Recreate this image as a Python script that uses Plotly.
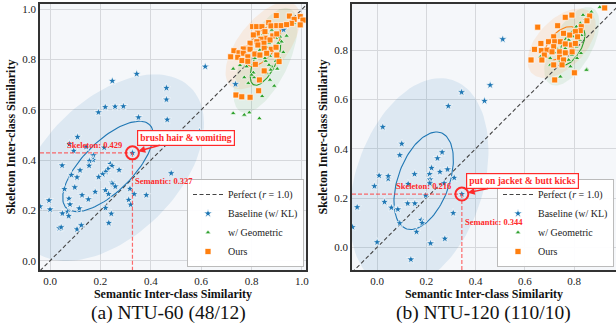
import numpy as np
import plotly.graph_objects as go

# ---------------- data ----------------
# (a) NTU-60 (48/12)
A_BASE_X = [0.616,0.344,0.247,0.462,0.462,0.219,0.258,0.291,0.192,0.351,0.465,0.109,0.593,0.736,0.927,0.077,0.094,0.143,0.215,0.172,0.327,0.048,0.171,0.156,0.155,0.119,0.085,0.107,0.239,0.246,0.230,0.221,0.209,0.193,0.274,0.246,-0.040,-0.004,0.000,0.057,0.098,0.075,0.079,0.049,0.070,0.074,0.116,0.127,0.152,0.179,0.220,0.232,0.249,0.259,0.220,0.243,0.233,0.317,0.312,0.320,0.334,0.382,0.037,0.044,0.107,0.124,0.481]
A_BASE_Y = [0.772,0.743,0.715,0.687,0.641,0.611,0.613,0.614,0.590,0.570,0.561,0.492,0.513,0.702,0.919,0.464,0.437,0.453,0.450,0.419,0.429,0.379,0.401,0.397,0.378,0.360,0.341,0.332,0.385,0.377,0.365,0.354,0.344,0.333,0.361,0.310,0.216,0.240,0.204,0.285,0.292,0.247,0.224,0.188,0.195,0.178,0.208,0.261,0.244,0.274,0.280,0.265,0.305,0.295,0.210,0.187,0.150,0.286,0.242,0.223,0.265,0.261,0.129,0.133,0.125,0.141,0.348]
A_GEO_X = [0.727,0.771,0.791,0.831,0.842,0.890,0.727,0.771,0.810,0.959,0.992,0.968,0.926,0.880,0.902,0.856,0.807,0.780,0.754,0.828,0.860,0.902,0.913,0.870,0.919,0.807,0.853,0.873,0.896,0.910,0.860,0.873,0.787,0.939,0.869,0.876,0.800,0.866,0.845,0.880,0.897,0.906,0.827,0.860,0.833,0.813]
A_GEO_Y = [0.586,0.580,0.589,0.566,0.654,0.695,0.763,0.729,0.729,0.938,0.941,0.944,0.829,0.772,0.763,0.794,0.748,0.772,0.777,0.825,0.905,0.905,0.891,0.865,0.871,0.782,0.805,0.814,0.794,0.807,0.745,0.719,0.706,0.894,0.778,0.759,0.739,0.937,0.900,0.918,0.885,0.865,0.894,0.849,0.838,0.805]
A_OURS_X = [0.898,0.950,0.993,1.004,0.969,0.958,0.993,0.804,0.820,0.841,0.868,0.877,0.900,0.918,0.939,0.853,0.823,0.807,0.884,0.900,0.854,0.837,0.873,0.821,0.794,0.849,0.825,0.778,0.767,0.794,0.850,0.878,0.897,0.730,0.750,0.767,0.813,0.833,0.860,0.717,0.745,0.785,0.900,0.762,0.785,0.909,0.815,0.850,0.831,0.828,0.738,0.761,0.794]
A_OURS_Y = [0.975,0.973,0.971,0.957,0.960,0.944,0.938,0.931,0.931,0.931,0.947,0.934,0.935,0.935,0.939,0.911,0.905,0.898,0.894,0.902,0.885,0.881,0.878,0.871,0.865,0.865,0.858,0.845,0.842,0.841,0.845,0.841,0.849,0.835,0.827,0.825,0.822,0.818,0.825,0.811,0.809,0.811,0.818,0.796,0.793,0.792,0.781,0.755,0.719,0.676,0.659,0.652,0.650]
A_HIGHLIGHT = (0.327, 0.429)
A_PAIR = "brush hair & vomiting"
# baseline confidence ellipses: (cx, cy, semi-major, semi-minor, angle deg)
A_BASE_ELL_INNER = (0.230, 0.375, 0.234, 0.100, 45)
A_BASE_ELL_OUTER = (0.240, 0.370, 0.450, 0.270, 45)

# (b) NTU-120 (110/10)
B_BASE_X = [0.510,0.459,0.343,0.436,0.289,0.023,0.100,0.092,0.264,0.245,0.221,0.255,0.286,0.313,0.213,0.215,0.152,0.045,0.045,0.008,-0.011,-0.081,-0.100,0.030,0.058,0.084,0.092,0.124,0.153,0.197,0.179,0.183,0.160,0.309,0.275,0.217,0.000,0.137,0.126,0.214,0.272,0.344]
B_BASE_Y = [0.844,0.658,0.629,0.594,0.573,0.488,0.420,0.374,0.386,0.361,0.322,0.306,0.316,0.282,0.297,0.275,0.297,0.278,0.289,0.291,0.248,0.163,0.082,0.184,0.161,0.154,0.098,0.178,0.178,0.210,0.111,0.099,0.063,0.139,0.035,0.016,0.021,-0.049,0.257,0.260,0.260,0.216]
B_GEO_X = [0.904,0.851,0.747,0.836,0.825,0.809,0.744,0.663,0.703,0.751,0.778,0.812,0.791,0.809,0.823,0.818,0.778,0.764,0.733,0.755,0.785,0.850,0.744,0.703,0.828,0.798,0.855,0.870,0.845,0.795,0.760,0.720,0.800,0.830]
B_GEO_Y = [0.974,0.722,0.690,0.942,0.909,0.895,0.800,0.773,0.767,0.746,0.760,0.767,0.780,0.814,0.841,0.868,0.841,0.807,0.803,0.780,0.733,0.719,0.692,0.740,0.787,0.800,0.935,0.955,0.925,0.855,0.830,0.790,0.830,0.860]
B_OURS_X = [0.924,0.652,0.764,0.791,0.863,0.829,0.852,0.733,0.825,0.805,0.757,0.782,0.814,0.717,0.696,0.721,0.744,0.764,0.789,0.805,0.665,0.717,0.639,0.667,0.690,0.710,0.741,0.764,0.792,0.679,0.741,0.757,0.669,0.625,0.717,0.751,0.801,0.721]
B_OURS_Y = [0.971,0.893,0.933,0.942,0.938,0.895,0.919,0.899,0.879,0.875,0.868,0.861,0.854,0.854,0.834,0.834,0.834,0.825,0.821,0.827,0.827,0.814,0.803,0.798,0.800,0.793,0.793,0.789,0.793,0.780,0.771,0.760,0.760,0.760,0.740,0.740,0.708,0.679]
B_HIGHLIGHT = (0.344, 0.216)
B_PAIR = "put on jacket & butt kicks"
B_BASE_ELL_INNER = (0.189, 0.270, 0.207, 0.104, 70)
B_BASE_ELL_OUTER = (0.170, 0.260, 0.440, 0.260, 72)

PANEL_TITLES = ["(a) NTU-60 (48/12)", "(b) NTU-120 (110/10)"]
SERIES_NAMES = ["Baseline (w/ KL)", "w/ Geometric", "Ours"]
PERFECT_NAME = "Perfect (<i>r</i> = 1.0)"
X_TITLE = "Semantic Inter-class Similarity"
Y_TITLE = "Skeleton Inter-class Similarity"
A_TICKS = [0.0, 0.2, 0.4, 0.6, 0.8, 1.0]
B_TICKS = [0.0, 0.2, 0.4, 0.6, 0.8]

# ---------------- style ----------------
W, H = 616, 331
FONT = "Liberation Serif, Times New Roman, serif"
COLORS = ["#1f77b4", "#2ca02c", "#ff7f0e"]
FILLS = ["rgba(31,119,180,0.11)", "rgba(44,160,44,0.09)", "rgba(255,127,14,0.10)"]
SYMBOLS = ["star", "triangle-up", "square"]
SIZES = [6.5, 5, 6]
INNER_STD, OUTER_STD = 1.0, 2.1
RED = "#ff2a2a"

panels = [
    dict(base=(A_BASE_X, A_BASE_Y), geo=(A_GEO_X, A_GEO_Y), ours=(A_OURS_X, A_OURS_Y),
         ell=(A_BASE_ELL_INNER, A_BASE_ELL_OUTER),
         hl=A_HIGHLIGHT, pair=A_PAIR, xr=[-0.04, 1.016], yr=[-0.037, 1.021], ticks=A_TICKS,
         px=(40, 306), py=(4, 270), tcx=168, legend="legend", ax=54, ay=-15),
    dict(base=(B_BASE_X, B_BASE_Y), geo=(B_GEO_X, B_GEO_Y), ours=(B_OURS_X, B_OURS_Y),
         ell=(B_BASE_ELL_INNER, B_BASE_ELL_OUTER),
         hl=B_HIGHLIGHT, pair=B_PAIR, xr=[-0.102, 0.970], yr=[-0.092, 0.987], ticks=B_TICKS,
         px=(352, 616), py=(4, 270), tcx=483, legend="legend2", ax=61, ay=-13),
]


def ellipse_from_data(xs, ys, n_std, n=120):
    xs, ys = np.asarray(xs), np.asarray(ys)
    mean = np.array([xs.mean(), ys.mean()])
    vals, vecs = np.linalg.eigh(np.cov(xs, ys))
    t = np.linspace(0, 2 * np.pi, n)
    circ = np.vstack([np.cos(t), np.sin(t)])
    pts = vecs @ (np.sqrt(vals)[:, None] * n_std * circ) + mean[:, None]
    return pts[0], pts[1]


def ellipse_from_params(params, n=120):
    cx, cy, a, b, ang = params
    t = np.linspace(0, 2 * np.pi, n)
    th = np.deg2rad(ang)
    ex = cx + a * np.cos(t) * np.cos(th) - b * np.sin(t) * np.sin(th)
    ey = cy + a * np.cos(t) * np.sin(th) + b * np.sin(t) * np.cos(th)
    return ex, ey


fig = go.Figure()
annotations = []

for i, p in enumerate(panels):
    xa = "x" if i == 0 else "x2"
    ya = "y" if i == 0 else "y2"
    series = [p["base"], p["geo"], p["ours"]]
    inner_e, outer_e = [], []
    for k, (sx, sy) in enumerate(series):
        if k == 0:
            inner_e.append(ellipse_from_params(p["ell"][0]))
            outer_e.append(ellipse_from_params(p["ell"][1]))
        else:
            inner_e.append(ellipse_from_data(sx, sy, INNER_STD))
            outer_e.append(ellipse_from_data(sx, sy, OUTER_STD))
    for k in range(3):
        ex, ey = outer_e[k]
        fig.add_trace(go.Scatter(x=ex, y=ey, mode="lines", fill="toself", fillcolor=FILLS[k],
                                 line=dict(width=0), hoverinfo="skip", showlegend=False,
                                 xaxis=xa, yaxis=ya))
    lo = min(p["xr"][0], p["yr"][0]); hi = max(p["xr"][1], p["yr"][1])
    fig.add_trace(go.Scatter(x=[lo, hi], y=[lo, hi], mode="lines", name=PERFECT_NAME,
                             line=dict(color="#444", width=1.1, dash="4px,2.5px"),
                             xaxis=xa, yaxis=ya, legend=p["legend"]))
    for k in range(3):
        ex, ey = inner_e[k]
        fig.add_trace(go.Scatter(x=ex, y=ey, mode="lines", line=dict(color=COLORS[k], width=1.1),
                                 hoverinfo="skip", showlegend=False, xaxis=xa, yaxis=ya))
    for k, (sx, sy) in enumerate(series):
        fig.add_trace(go.Scatter(x=sx, y=sy, mode="markers", name=SERIES_NAMES[k],
                                 marker=dict(symbol=SYMBOLS[k], size=SIZES[k], color=COLORS[k],
                                             line=dict(color="white", width=0.7)),
                                 xaxis=xa, yaxis=ya, legend=p["legend"]))
    hx, hy = p["hl"]
    fig.add_trace(go.Scatter(x=[p["xr"][0], hx], y=[hy, hy], mode="lines",
                             line=dict(color="rgba(255,60,60,0.75)", width=1.2, dash="4px,2px"),
                             showlegend=False, hoverinfo="skip", xaxis=xa, yaxis=ya))
    fig.add_trace(go.Scatter(x=[hx, hx], y=[hy, p["yr"][0]], mode="lines",
                             line=dict(color="rgba(255,60,60,0.75)", width=1.2, dash="4px,2px"),
                             showlegend=False, hoverinfo="skip", xaxis=xa, yaxis=ya))
    fig.add_trace(go.Scatter(x=[hx], y=[hy], mode="markers",
                             marker=dict(symbol="circle-open", size=13, color=RED, line=dict(width=2)),
                             showlegend=False, hoverinfo="skip", xaxis=xa, yaxis=ya))
    annotations.append(dict(x=hx, y=hy, xref=xa, yref=ya, text=f"<b>Skeleton: {hy:.3f}</b>",
                            showarrow=False, xshift=-38, yshift=8,
                            font=dict(family=FONT, size=8.5, color=RED)))
    annotations.append(dict(x=hx, y=hy, xref=xa, yref=ya, text=f"<b>Semantic: {hx:.3f}</b>",
                            showarrow=False, xshift=32, yshift=-28,
                            font=dict(family=FONT, size=8.5, color=RED)))
    annotations.append(dict(x=hx, y=hy, xref=xa, yref=ya, text=f"<b>{p['pair']}</b>",
                            showarrow=True, ax=p["ax"], ay=p["ay"], arrowhead=2, arrowsize=1,
                            arrowwidth=1.4, arrowcolor=RED, standoff=6,
                            bgcolor="white", bordercolor=RED, borderwidth=1.2, borderpad=2,
                            font=dict(family=FONT, size=9.5, color=RED)))
    annotations.append(dict(x=p["tcx"] / W, y=1 - 313 / H, xref="paper", yref="paper",
                            text=PANEL_TITLES[i], showarrow=False, xanchor="center",
                            yanchor="middle", font=dict(family=FONT, size=19.5, color="#111")))

axis_common = dict(showgrid=True, gridcolor="#d6d8dc", gridwidth=1, zeroline=False,
                   showline=True, linecolor="#333", linewidth=1.6, mirror=True,
                   ticks="", tickfont=dict(family=FONT, size=11, color="#222"),
                   automargin=False)

layout = dict(width=W, height=H, margin=dict(l=0, r=0, t=0, b=0),
              paper_bgcolor="white", plot_bgcolor="#f5f7fa",
              annotations=annotations, font=dict(family=FONT))
for i, p in enumerate(panels):
    sfx = "" if i == 0 else "2"
    xd = [p["px"][0] / W, p["px"][1] / W]
    yd = [1 - p["py"][1] / H, 1 - p["py"][0] / H]
    layout["xaxis" + sfx] = dict(axis_common, domain=xd, range=p["xr"], tickvals=p["ticks"],
                                 ticktext=[f"{t:.1f}" for t in p["ticks"]],
                                 anchor="y" + sfx,
                                 title=dict(text=f"<b>{X_TITLE}</b>", standoff=3,
                                            font=dict(family=FONT, size=12, color="#111")))
    layout["yaxis" + sfx] = dict(axis_common, domain=yd, range=p["yr"], tickvals=p["ticks"],
                                 ticktext=[f"{t:.1f}" for t in p["ticks"]],
                                 anchor="x" + sfx,
                                 title=dict(text=f"<b>{Y_TITLE}</b>", standoff=4,
                                            font=dict(family=FONT, size=12, color="#111")))
    layout["legend" if i == 0 else "legend2"] = dict(
        x=(p["px"][1] - 2) / W, y=1 - (p["py"][1] - 3) / H, xanchor="right", yanchor="bottom",
        bgcolor="rgba(255,255,255,0.95)", bordercolor="#bbb", borderwidth=1,
        font=dict(family=FONT, size=10, color="#222"), tracegroupgap=0, itemwidth=30)

fig.update_layout(**layout)
fig.write_html("out.html", config={"displayModeBar": False},
               post_script="document.body.style.margin='0';")
